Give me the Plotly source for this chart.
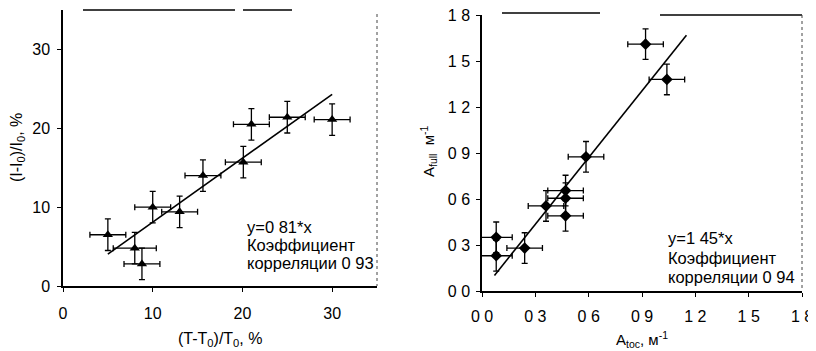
import plotly.graph_objects as go

# ---- Left panel data ----
left_x = [5.0, 8.0, 8.8, 10.0, 13.0, 15.6, 20.1, 21.0, 25.0, 30.0]
left_y = [6.5, 4.8, 2.8, 10.0, 9.4, 14.0, 15.7, 20.5, 21.4, 21.1]
left_xerr = [2.0, 2.4, 2.0, 2.0, 2.0, 2.0, 2.0, 2.0, 2.0, 2.0]
left_yerr = [2.0, 2.0, 2.0, 2.0, 2.0, 2.0, 2.0, 2.0, 2.0, 2.0]
left_slope = 0.81
left_fit_x = [5.0, 30.0]
left_ticks = [0, 10, 20, 30]
left_ticktext = ["0", "10", "20", "30"]

# ---- Right panel data ----
right_x = [0.08, 0.08, 0.24, 0.36, 0.47, 0.47, 0.47, 0.585, 0.92, 1.04]
right_y = [0.35, 0.23, 0.28, 0.555, 0.655, 0.605, 0.49, 0.875, 1.61, 1.38]
right_xerr = [0.09, 0.09, 0.1, 0.1, 0.1, 0.1, 0.1, 0.1, 0.1, 0.1]
right_yerr = [0.1, 0.1, 0.1, 0.1, 0.1, 0.1, 0.1, 0.1, 0.1, 0.1]
right_slope = 1.45
right_fit_x = [0.07, 1.15]
right_ticks = [0.0, 0.3, 0.6, 0.9, 1.2, 1.5, 1.8]
right_ticktext = ["0 0", "0 3", "0 6", "0 9", "1 2", "1 5", "1 8"]

# page body has an 8px margin: the figure is drawn at (8, 8)
OFF = 8
W, H = 816 - OFF, 351 - OFF
FONT = "Liberation Sans, Arial, sans-serif"

def px(x):
    return (x - OFF) / W

def py(y):
    return 1 - (y - OFF) / H

fig = go.Figure()

err_style = dict(color="black", thickness=1.3, width=3)

fig.add_trace(go.Scatter(
    x=left_x, y=left_y, mode="markers",
    marker=dict(symbol="triangle-up", size=9, color="black"),
    error_x=dict(type="data", array=left_xerr, visible=True, **err_style),
    error_y=dict(type="data", array=left_yerr, visible=True, **err_style),
    xaxis="x", yaxis="y", showlegend=False))
fig.add_trace(go.Scatter(
    x=left_fit_x, y=[left_slope * v for v in left_fit_x], mode="lines",
    line=dict(color="black", width=1.6),
    xaxis="x", yaxis="y", showlegend=False))

fig.add_trace(go.Scatter(
    x=right_x, y=right_y, mode="markers",
    marker=dict(symbol="diamond", size=9, color="black"),
    error_x=dict(type="data", array=right_xerr, visible=True, **err_style),
    error_y=dict(type="data", array=right_yerr, visible=True, **err_style),
    xaxis="x2", yaxis="y2", showlegend=False))
fig.add_trace(go.Scatter(
    x=right_fit_x, y=[right_slope * v for v in right_fit_x], mode="lines",
    line=dict(color="black", width=1.6),
    xaxis="x2", yaxis="y2", showlegend=False))

axis_common = dict(
    showgrid=False, zeroline=False, showline=True, linecolor="black",
    linewidth=1.5, ticks="outside", ticklen=4, tickcolor="black",
    tickwidth=1.2, automargin=False, ticklabeloverflow="allow",
    tickfont=dict(family=FONT, size=16, color="black"),
)

fig.update_layout(
    template="none",
    width=W, height=H,
    margin=dict(l=0, r=0, t=0, b=0, pad=0),
    paper_bgcolor="white", plot_bgcolor="white",
    xaxis=dict(domain=[px(63), px(377)], range=[0, 35], anchor="y",
               tickvals=left_ticks, ticktext=left_ticktext,
               ticklabelstandoff=8, **axis_common),
    yaxis=dict(domain=[py(286), py(10)], range=[0, 35], anchor="x",
               tickvals=left_ticks, ticktext=left_ticktext,
               ticklabelstandoff=4, **axis_common),
    xaxis2=dict(domain=[px(482), px(802)], range=[0, 1.8], anchor="y2",
                tickvals=right_ticks, ticktext=right_ticktext,
                ticklabelstandoff=6, **axis_common),
    yaxis2=dict(domain=[py(291), py(15)], range=[0, 1.8], anchor="x2",
                tickvals=right_ticks, ticktext=right_ticktext,
                ticklabelstandoff=3, **axis_common),
)

# frame pieces (scanned look)
shapes = [
    dict(type="line", xref="paper", yref="paper", x0=px(83), x1=px(235), y0=py(10), y1=py(10),
         line=dict(color="black", width=1.5)),
    dict(type="line", xref="paper", yref="paper", x0=px(243), x1=px(292), y0=py(10), y1=py(10),
         line=dict(color="black", width=1.5)),
    dict(type="line", xref="paper", yref="paper", x0=px(377), x1=px(377), y0=py(14), y1=py(286),
         line=dict(color="#444", width=1, dash="dot")),
    dict(type="line", xref="paper", yref="paper", x0=px(502), x1=px(600), y0=py(13), y1=py(13),
         line=dict(color="black", width=1.5)),
    dict(type="line", xref="paper", yref="paper", x0=px(660), x1=px(802), y0=py(15), y1=py(15),
         line=dict(color="black", width=1.5)),
    dict(type="line", xref="paper", yref="paper", x0=px(802), x1=px(802), y0=py(15), y1=py(291),
         line=dict(color="#444", width=1, dash="dot")),
]
fig.update_layout(shapes=shapes)

ann = []
def text(x, y, t, size=16, xanchor="center", angle=0):
    ann.append(dict(x=px(x), y=py(y), xref="paper", yref="paper", text=t,
                    showarrow=False, xanchor=xanchor, yanchor="middle",
                    borderpad=0, textangle=angle,
                    font=dict(family=FONT, size=size, color="black")))

# axis titles
text(220, 339, "(T-T<sub>0</sub>)/T<sub>0</sub>, %", size=16)
text(17, 148, "(I-I<sub>0</sub>)/I<sub>0</sub>, %", size=16, angle=-90)
text(642, 339, "A<sub>toc</sub>, м<sup>-1</sup>", size=15)
text(428, 151, "A<sub>full</sub>  м<sup>-1</sup>", size=15, angle=-90)

# regression notes
text(246, 227, "y=0 81*x", size=16.5, xanchor="left")
text(246, 245, "Коэффициент", size=16.5, xanchor="left")
text(246, 263, "корреляции 0 93", size=16.5, xanchor="left")
text(667, 238, "y=1 45*x", size=16.5, xanchor="left")
text(667, 258, "Коэффициент", size=16.5, xanchor="left")
text(667, 277, "корреляции 0 94", size=16.5, xanchor="left")

fig.update_layout(annotations=ann)

fig.write_html("out.html")
